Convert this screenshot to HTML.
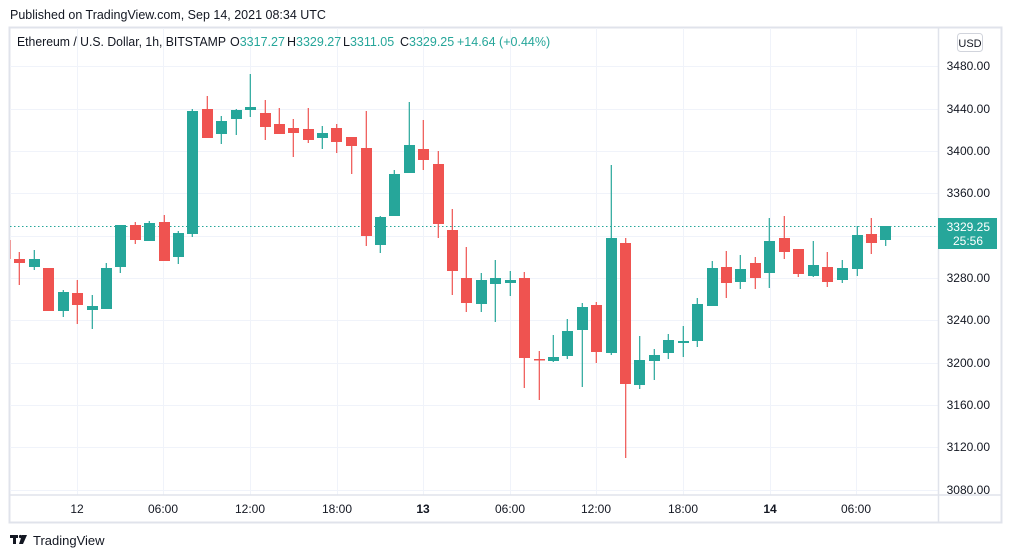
<!DOCTYPE html>
<html><head><meta charset="utf-8"><style>
html,body{margin:0;padding:0;background:#fff;width:1012px;height:558px;overflow:hidden;font-family:"Liberation Sans",sans-serif;}
</style></head><body>
<svg width="1012" height="558" viewBox="0 0 1012 558" xmlns="http://www.w3.org/2000/svg" font-family="Liberation Sans, sans-serif">
<text x="10" y="19" font-size="12.5" fill="#131722">Published on TradingView.com, Sep 14, 2021 08:34 UTC</text>
<rect x="9.5" y="27.5" width="992" height="495" fill="#fff" stroke="#e0e3eb" stroke-width="2"/>
<g stroke="#f0f3fa" stroke-width="1">
<line x1="10" x2="938" y1="66.5" y2="66.5"/><line x1="10" x2="938" y1="109.5" y2="109.5"/><line x1="10" x2="938" y1="151.5" y2="151.5"/><line x1="10" x2="938" y1="193.5" y2="193.5"/><line x1="10" x2="938" y1="236.5" y2="236.5"/><line x1="10" x2="938" y1="278.5" y2="278.5"/><line x1="10" x2="938" y1="320.5" y2="320.5"/><line x1="10" x2="938" y1="363.5" y2="363.5"/><line x1="10" x2="938" y1="405.5" y2="405.5"/><line x1="10" x2="938" y1="447.5" y2="447.5"/><line x1="10" x2="938" y1="490.5" y2="490.5"/>
<line y1="28" y2="495" x1="77.5" x2="77.5"/><line y1="28" y2="495" x1="163.5" x2="163.5"/><line y1="28" y2="495" x1="250.5" x2="250.5"/><line y1="28" y2="495" x1="337.5" x2="337.5"/><line y1="28" y2="495" x1="423.5" x2="423.5"/><line y1="28" y2="495" x1="510.5" x2="510.5"/><line y1="28" y2="495" x1="596.5" x2="596.5"/><line y1="28" y2="495" x1="683.5" x2="683.5"/><line y1="28" y2="495" x1="770.5" x2="770.5"/><line y1="28" y2="495" x1="856.5" x2="856.5"/>
</g>
<line x1="938.5" x2="938.5" y1="28" y2="522" stroke="#e0e3eb" stroke-width="1.5"/>
<line x1="10" x2="1001" y1="495" y2="495" stroke="#e0e3eb" stroke-width="1.5"/>
<line x1="10" x2="938" y1="226.5" y2="226.5" stroke="#26a69a" stroke-width="1" stroke-dasharray="1.5,2.5"/>
<line x1="10.5" x2="10.5" y1="240" y2="259" stroke="#ef9a9a"/>
<g stroke-width="1.2">
<g fill="#ef5350" stroke="#ef5350"><line x1="19.3" x2="19.3" y1="252" y2="285"/><rect x="14" y="259" width="11" height="4" stroke="none"/></g>
<g fill="#26a69a" stroke="#26a69a"><line x1="34.3" x2="34.3" y1="250" y2="270"/><rect x="29" y="259" width="11" height="8" stroke="none"/></g>
<g fill="#ef5350" stroke="#ef5350"><rect x="43" y="268" width="11" height="43" stroke="none"/></g>
<g fill="#26a69a" stroke="#26a69a"><line x1="63.3" x2="63.3" y1="290" y2="317"/><rect x="58" y="292" width="11" height="19" stroke="none"/></g>
<g fill="#ef5350" stroke="#ef5350"><line x1="77.3" x2="77.3" y1="280" y2="324"/><rect x="72" y="293" width="11" height="12" stroke="none"/></g>
<g fill="#26a69a" stroke="#26a69a"><line x1="92.3" x2="92.3" y1="295" y2="329"/><rect x="87" y="306" width="11" height="4" stroke="none"/></g>
<g fill="#26a69a" stroke="#26a69a"><line x1="106.3" x2="106.3" y1="263" y2="309"/><rect x="101" y="268" width="11" height="41" stroke="none"/></g>
<g fill="#26a69a" stroke="#26a69a"><line x1="120.3" x2="120.3" y1="225" y2="273"/><rect x="115" y="225" width="11" height="42" stroke="none"/></g>
<g fill="#ef5350" stroke="#ef5350"><line x1="135.3" x2="135.3" y1="222" y2="244"/><rect x="130" y="225" width="11" height="15" stroke="none"/></g>
<g fill="#26a69a" stroke="#26a69a"><line x1="149.3" x2="149.3" y1="221" y2="241"/><rect x="144" y="223" width="11" height="18" stroke="none"/></g>
<g fill="#ef5350" stroke="#ef5350"><line x1="164.3" x2="164.3" y1="215" y2="261"/><rect x="159" y="222" width="11" height="39" stroke="none"/></g>
<g fill="#26a69a" stroke="#26a69a"><line x1="178.3" x2="178.3" y1="231" y2="264"/><rect x="173" y="233" width="11" height="24" stroke="none"/></g>
<g fill="#26a69a" stroke="#26a69a"><line x1="192.3" x2="192.3" y1="109" y2="237"/><rect x="187" y="111" width="11" height="123" stroke="none"/></g>
<g fill="#ef5350" stroke="#ef5350"><line x1="207.3" x2="207.3" y1="96" y2="138"/><rect x="202" y="109" width="11" height="29" stroke="none"/></g>
<g fill="#26a69a" stroke="#26a69a"><line x1="221.3" x2="221.3" y1="116" y2="144"/><rect x="216" y="121" width="11" height="13" stroke="none"/></g>
<g fill="#26a69a" stroke="#26a69a"><line x1="236.3" x2="236.3" y1="109" y2="135"/><rect x="231" y="110" width="11" height="9" stroke="none"/></g>
<g fill="#26a69a" stroke="#26a69a"><line x1="250.3" x2="250.3" y1="74" y2="117"/><rect x="245" y="107" width="11" height="3" stroke="none"/></g>
<g fill="#ef5350" stroke="#ef5350"><line x1="265.3" x2="265.3" y1="100" y2="140"/><rect x="260" y="113" width="11" height="14" stroke="none"/></g>
<g fill="#ef5350" stroke="#ef5350"><line x1="279.3" x2="279.3" y1="108" y2="134"/><rect x="274" y="124" width="11" height="10" stroke="none"/></g>
<g fill="#ef5350" stroke="#ef5350"><line x1="293.3" x2="293.3" y1="119" y2="157"/><rect x="288" y="128" width="11" height="5" stroke="none"/></g>
<g fill="#ef5350" stroke="#ef5350"><line x1="308.3" x2="308.3" y1="108" y2="143"/><rect x="303" y="129" width="11" height="11" stroke="none"/></g>
<g fill="#26a69a" stroke="#26a69a"><line x1="322.3" x2="322.3" y1="126" y2="149"/><rect x="317" y="133" width="11" height="5" stroke="none"/></g>
<g fill="#ef5350" stroke="#ef5350"><line x1="336.7" x2="336.7" y1="124" y2="153"/><rect x="331" y="128" width="11" height="14" stroke="none"/></g>
<g fill="#ef5350" stroke="#ef5350"><line x1="351.7" x2="351.7" y1="137" y2="174"/><rect x="346" y="137" width="11" height="9" stroke="none"/></g>
<g fill="#ef5350" stroke="#ef5350"><line x1="366.3" x2="366.3" y1="111" y2="246"/><rect x="361" y="148" width="11" height="88" stroke="none"/></g>
<g fill="#26a69a" stroke="#26a69a"><line x1="380.3" x2="380.3" y1="216" y2="253"/><rect x="375" y="217" width="11" height="28" stroke="none"/></g>
<g fill="#26a69a" stroke="#26a69a"><line x1="394.3" x2="394.3" y1="170" y2="216"/><rect x="389" y="174" width="11" height="42" stroke="none"/></g>
<g fill="#26a69a" stroke="#26a69a"><line x1="409.3" x2="409.3" y1="102" y2="173"/><rect x="404" y="145" width="11" height="28" stroke="none"/></g>
<g fill="#ef5350" stroke="#ef5350"><line x1="423.3" x2="423.3" y1="120" y2="170"/><rect x="418" y="149" width="11" height="11" stroke="none"/></g>
<g fill="#ef5350" stroke="#ef5350"><line x1="438.3" x2="438.3" y1="151" y2="238"/><rect x="433" y="164" width="11" height="60" stroke="none"/></g>
<g fill="#ef5350" stroke="#ef5350"><line x1="452.3" x2="452.3" y1="209" y2="295"/><rect x="447" y="230" width="11" height="41" stroke="none"/></g>
<g fill="#ef5350" stroke="#ef5350"><line x1="466.3" x2="466.3" y1="247" y2="312"/><rect x="461" y="278" width="11" height="25" stroke="none"/></g>
<g fill="#26a69a" stroke="#26a69a"><line x1="481.3" x2="481.3" y1="273" y2="312"/><rect x="476" y="280" width="11" height="24" stroke="none"/></g>
<g fill="#26a69a" stroke="#26a69a"><line x1="495.3" x2="495.3" y1="260" y2="322"/><rect x="490" y="278" width="11" height="6" stroke="none"/></g>
<g fill="#26a69a" stroke="#26a69a"><line x1="510.3" x2="510.3" y1="271" y2="296"/><rect x="505" y="280" width="11" height="3" stroke="none"/></g>
<g fill="#ef5350" stroke="#ef5350"><line x1="524.3" x2="524.3" y1="272" y2="388"/><rect x="519" y="278" width="11" height="80" stroke="none"/></g>
<g fill="#ef5350" stroke="#ef5350"><line x1="539.3" x2="539.3" y1="351" y2="400"/><rect x="534" y="359" width="11" height="1.5" stroke="none"/></g>
<g fill="#26a69a" stroke="#26a69a"><line x1="553.3" x2="553.3" y1="335" y2="362"/><rect x="548" y="357" width="11" height="4" stroke="none"/></g>
<g fill="#26a69a" stroke="#26a69a"><line x1="567.3" x2="567.3" y1="319" y2="359"/><rect x="562" y="331" width="11" height="25" stroke="none"/></g>
<g fill="#26a69a" stroke="#26a69a"><line x1="582.3" x2="582.3" y1="303" y2="387"/><rect x="577" y="307" width="11" height="23" stroke="none"/></g>
<g fill="#ef5350" stroke="#ef5350"><line x1="596.3" x2="596.3" y1="302" y2="363"/><rect x="591" y="305" width="11" height="47" stroke="none"/></g>
<g fill="#26a69a" stroke="#26a69a"><line x1="611.3" x2="611.3" y1="165" y2="355"/><rect x="606" y="238" width="11" height="115" stroke="none"/></g>
<g fill="#ef5350" stroke="#ef5350"><line x1="625.7" x2="625.7" y1="238" y2="458"/><rect x="620" y="243" width="11" height="141" stroke="none"/></g>
<g fill="#26a69a" stroke="#26a69a"><line x1="639.7" x2="639.7" y1="336" y2="389"/><rect x="634" y="360" width="11" height="25" stroke="none"/></g>
<g fill="#26a69a" stroke="#26a69a"><line x1="654.3" x2="654.3" y1="349" y2="380"/><rect x="649" y="355" width="11" height="6" stroke="none"/></g>
<g fill="#26a69a" stroke="#26a69a"><line x1="668.3" x2="668.3" y1="334" y2="359"/><rect x="663" y="340" width="11" height="13" stroke="none"/></g>
<g fill="#26a69a" stroke="#26a69a"><line x1="683.3" x2="683.3" y1="326" y2="357"/><rect x="678" y="341" width="11" height="2" stroke="none"/></g>
<g fill="#26a69a" stroke="#26a69a"><line x1="697.3" x2="697.3" y1="298" y2="347"/><rect x="692" y="304" width="11" height="37" stroke="none"/></g>
<g fill="#26a69a" stroke="#26a69a"><line x1="712.3" x2="712.3" y1="261" y2="306"/><rect x="707" y="268" width="11" height="38" stroke="none"/></g>
<g fill="#ef5350" stroke="#ef5350"><line x1="726.3" x2="726.3" y1="251" y2="298"/><rect x="721" y="267" width="11" height="16" stroke="none"/></g>
<g fill="#26a69a" stroke="#26a69a"><line x1="740.3" x2="740.3" y1="255" y2="289"/><rect x="735" y="269" width="11" height="13" stroke="none"/></g>
<g fill="#ef5350" stroke="#ef5350"><line x1="755.3" x2="755.3" y1="257" y2="289"/><rect x="750" y="263" width="11" height="15" stroke="none"/></g>
<g fill="#26a69a" stroke="#26a69a"><line x1="769.3" x2="769.3" y1="218" y2="288"/><rect x="764" y="241" width="11" height="32" stroke="none"/></g>
<g fill="#ef5350" stroke="#ef5350"><line x1="784.3" x2="784.3" y1="216" y2="259"/><rect x="779" y="238" width="11" height="14" stroke="none"/></g>
<g fill="#ef5350" stroke="#ef5350"><line x1="798.3" x2="798.3" y1="249" y2="277"/><rect x="793" y="249" width="11" height="25" stroke="none"/></g>
<g fill="#26a69a" stroke="#26a69a"><line x1="813.3" x2="813.3" y1="241" y2="277"/><rect x="808" y="265" width="11" height="11" stroke="none"/></g>
<g fill="#ef5350" stroke="#ef5350"><line x1="827.3" x2="827.3" y1="252" y2="287"/><rect x="822" y="267" width="11" height="15" stroke="none"/></g>
<g fill="#26a69a" stroke="#26a69a"><line x1="842.3" x2="842.3" y1="260" y2="283"/><rect x="837" y="268" width="11" height="12" stroke="none"/></g>
<g fill="#26a69a" stroke="#26a69a"><line x1="857.3" x2="857.3" y1="226" y2="276"/><rect x="852" y="235" width="11" height="34" stroke="none"/></g>
<g fill="#ef5350" stroke="#ef5350"><line x1="871.3" x2="871.3" y1="218" y2="254"/><rect x="866" y="234" width="11" height="9" stroke="none"/></g>
<g fill="#26a69a" stroke="#26a69a"><line x1="885.7" x2="885.7" y1="226" y2="246"/><rect x="880" y="226" width="11" height="14" stroke="none"/></g>
</g>
<g font-size="12.5" fill="#131722">
<text x="17" y="46" textLength="209" lengthAdjust="spacingAndGlyphs">Ethereum / U.S. Dollar, 1h, BITSTAMP</text>
<text x="230" y="46">O<tspan fill="#26a69a">3317.27</tspan></text>
<text x="287" y="46">H<tspan fill="#26a69a">3329.27</tspan></text>
<text x="343" y="46">L<tspan fill="#26a69a">3311.05</tspan></text>
<text x="400" y="46">C<tspan fill="#26a69a">3329.25</tspan></text>
<text x="457" y="46" fill="#26a69a">+14.64 (+0.44%)</text>
</g>
<rect x="957.5" y="33.5" width="25" height="18" rx="3" fill="#fff" stroke="#d1d4dc"/>
<text x="970" y="47" font-size="11" fill="#131722" text-anchor="middle">USD</text>
<g font-size="12" fill="#131722" text-anchor="end">
<text x="990" y="70">3480.00</text><text x="990" y="113">3440.00</text><text x="990" y="155">3400.00</text><text x="990" y="197">3360.00</text><text x="990" y="282">3280.00</text><text x="990" y="324">3240.00</text><text x="990" y="367">3200.00</text><text x="990" y="409">3160.00</text><text x="990" y="451">3120.00</text><text x="990" y="494">3080.00</text>
</g>
<rect x="938" y="218" width="59" height="31" fill="#26a69a"/>
<text x="990" y="231" font-size="12" fill="#fff" text-anchor="end">3329.25</text>
<text x="983" y="245" font-size="12" fill="#fff" text-anchor="end">25:56</text>
<g font-size="12" fill="#131722" text-anchor="middle">
<text x="77" y="513">12</text><text x="163" y="513">06:00</text><text x="250" y="513">12:00</text><text x="337" y="513">18:00</text><text x="423" y="513" font-weight="bold">13</text><text x="510" y="513">06:00</text><text x="596" y="513">12:00</text><text x="683" y="513">18:00</text><text x="770" y="513" font-weight="bold">14</text><text x="856" y="513">06:00</text>
</g>
<g fill="#131722">
<rect x="10" y="535" width="8" height="3"/><rect x="13" y="535" width="3" height="9"/>
<circle cx="20.5" cy="536.5" r="1.6"/><polygon points="22,535 27,535 23,544 19,544"/>
</g>
<text x="33" y="545" font-size="13" fill="#131722">TradingView</text>
</svg>
</body></html>
